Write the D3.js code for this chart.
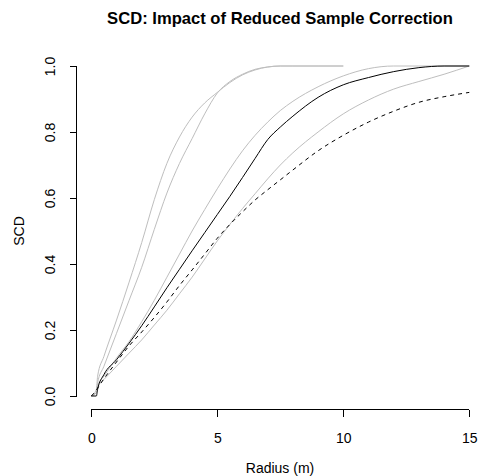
<!DOCTYPE html>
<html>
<head>
<meta charset="utf-8">
<script src="https://cdn.jsdelivr.net/npm/d3@7"></script>
<style>
  body { margin: 0; background: #fff; }
  text { font-family: "Liberation Sans", Arial, Helvetica, sans-serif; }
</style>
</head>
<body>
<div id="chart"></div>
<script>
// radius grid (m)
const radius = [0, 0.2, 0.25, 0.5, 1, 1.5, 2, 2.5, 3, 3.5, 4, 4.5, 5, 5.5, 6, 6.5, 7, 7.5, 8, 9, 10, 11, 12, 13, 14, 15];

// grey envelope curves (null = no data beyond that radius)
const grey1 = [0, 0.02, 0.06, 0.12, 0.23, 0.345, 0.465, 0.595, 0.705, 0.785, 0.845, 0.888, 0.92, 0.95, 0.973, 0.988, 0.997, 1, 1, 1, 1, null, null, null, null, null];
const grey2 = [0, 0.01, 0.04, 0.09, 0.19, 0.29, 0.39, 0.505, 0.615, 0.705, 0.78, 0.855, 0.918, 0.953, 0.975, 0.99, 0.997, 1, 1, 1, 1, null, null, null, null, null];
const grey3 = [0, 0.01, 0.03, 0.06, 0.115, 0.165, 0.225, 0.29, 0.36, 0.43, 0.5, 0.565, 0.628, 0.688, 0.743, 0.79, 0.83, 0.865, 0.893, 0.937, 0.97, 0.992, 1, 1, 1, 1];
const grey4 = [0, 0.01, 0.03, 0.05, 0.09, 0.13, 0.17, 0.215, 0.26, 0.31, 0.36, 0.415, 0.47, 0.52, 0.568, 0.613, 0.658, 0.7, 0.737, 0.8, 0.855, 0.897, 0.93, 0.953, 0.975, 1];

// corrected estimate (solid) and uncorrected (dashed)
const corrected = [0, 0, 0.02, 0.065, 0.11, 0.16, 0.213, 0.27, 0.328, 0.384, 0.44, 0.495, 0.55, 0.605, 0.662, 0.72, 0.777, 0.815, 0.848, 0.905, 0.943, 0.965, 0.983, 0.995, 1, 1];
const uncorrected = [0, 0.018, 0.024, 0.052, 0.103, 0.152, 0.194, 0.238, 0.285, 0.335, 0.382, 0.43, 0.478, 0.52, 0.558, 0.594, 0.625, 0.655, 0.685, 0.743, 0.79, 0.83, 0.863, 0.89, 0.907, 0.92];

const xTicks = [0, 5, 10, 15];
const yTicks = [0, 0.2, 0.4, 0.6, 0.8, 1.0];

const width = 478, height = 476;

// R style plot region: data range padded by 4%
const x = d3.scaleLinear()
  .domain([-0.6, 15.6])
  .range([76.2, 484.4]);
const y = d3.scaleLinear()
  .domain([-0.04, 1.04])
  .range([409.2, 52.8]);

const svg = d3.select("#chart")
  .append("svg")
  .attr("width", width)
  .attr("height", height);

const line = d3.line()
  .defined(d => d[1] != null)
  .curve(d3.curveMonotoneX)
  .x(d => x(d[0]))
  .y(d => y(d[1]));

const series = [
  {vals: grey1, color: "#bebebe", dash: null},
  {vals: grey2, color: "#bebebe", dash: null},
  {vals: grey3, color: "#bebebe", dash: null},
  {vals: grey4, color: "#bebebe", dash: null},
  {vals: uncorrected, color: "#000", dash: "4,4"},
  {vals: corrected, color: "#000", dash: null}
];

svg.append("g").attr("class", "curves")
  .selectAll("path")
  .data(series)
  .enter().append("path")
  .attr("d", s => line(radius.map((r, i) => [r, s.vals[i]])))
  .attr("fill", "none")
  .attr("stroke", s => s.color)
  .attr("stroke-width", 1)
  .attr("stroke-dasharray", s => s.dash);

// X axis
const xAxis = d3.axisBottom(x).tickValues(xTicks).tickSize(7).tickPadding(17).tickFormat(d3.format("d"));
const gx = svg.append("g")
  .attr("transform", "translate(0,409.5)")
  .call(xAxis);
gx.select(".domain").attr("d", "M" + x(0) + ",0H" + x(15));
gx.selectAll("text").style("font-size", "14px").attr("fill", "#000");

// Y axis
const yAxis = d3.axisLeft(y).tickValues(yTicks).tickSize(7).tickFormat(d3.format(".1f"));
const gy = svg.append("g")
  .attr("transform", "translate(76.5,0)")
  .call(yAxis);
gy.select(".domain").attr("d", "M0," + y(0) + "V" + y(1));
gy.selectAll(".tick text")
  .attr("x", null).attr("dy", null)
  .attr("transform", "translate(-21.5,0) rotate(-90)")
  .attr("text-anchor", "middle")
  .style("font-size", "14px")
  .attr("fill", "#000");

gx.selectAll("line, path").attr("shape-rendering", "crispEdges");
gy.selectAll("line, path").attr("shape-rendering", "crispEdges");

// titles
svg.append("text")
  .attr("x", 280).attr("y", 24)
  .attr("text-anchor", "middle")
  .style("font-size", "16.6px")
  .style("font-weight", "bold")
  .text("SCD: Impact of Reduced Sample Correction");

svg.append("text")
  .attr("x", 280).attr("y", 473)
  .attr("text-anchor", "middle")
  .style("font-size", "14px")
  .text("Radius (m)");

svg.append("text")
  .attr("transform", "translate(24,231) rotate(-90)")
  .attr("text-anchor", "middle")
  .style("font-size", "14px")
  .text("SCD");
</script>
</body>
</html>
